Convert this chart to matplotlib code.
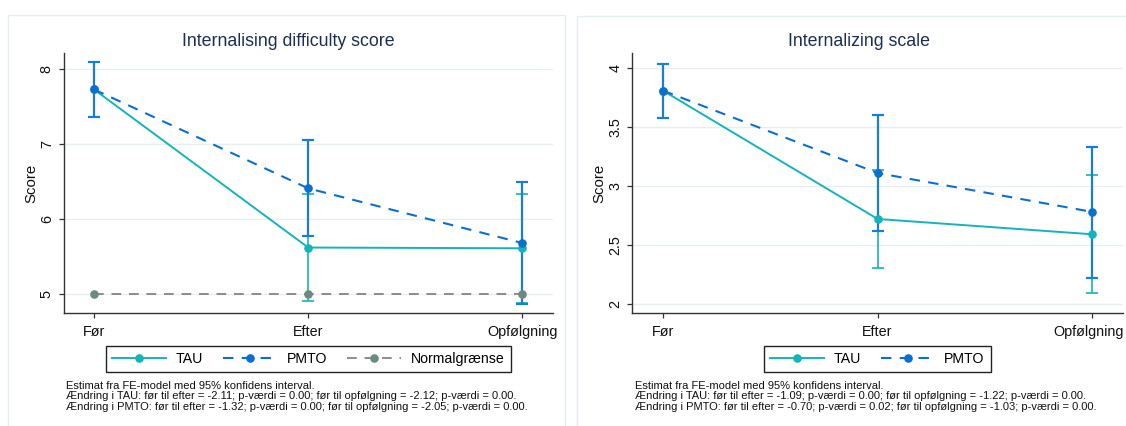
import matplotlib
matplotlib.use("Agg")
import matplotlib.pyplot as plt
import matplotlib.transforms as mtransforms
from matplotlib.patches import Rectangle
from matplotlib.lines import Line2D
import numpy as np

plt.rcParams['font.family'] = ['Liberation Sans', 'DejaVu Sans']

# ---------------- data ----------------
categories = ['Før', 'Efter', 'Opfølgning']

# Left panel: Internalising difficulty score
title1 = 'Internalising difficulty score'
tau1 = [7.73, 5.62, 5.61]
tau1_lo = [7.36, 4.90, 4.88]
tau1_hi = [8.10, 6.34, 6.34]
pmto1 = [7.73, 6.41, 5.68]
pmto1_lo = [7.36, 5.77, 4.87]
pmto1_hi = [8.10, 7.06, 6.49]
norm1 = [5, 5, 5]
yticks1 = [5, 6, 7, 8]
notes1 = ['Estimat fra FE-model med 95% konfidens interval.',
          'Ændring i TAU: før til efter = -2.11; p-værdi = 0.00; før til opfølgning = -2.12; p-værdi = 0.00.',
          'Ændring i PMTO: før til efter = -1.32; p-værdi = 0.00; før til opfølgning = -2.05; p-værdi = 0.00.']

# Right panel: Internalizing scale
title2 = 'Internalizing scale'
tau2 = [3.81, 2.72, 2.59]
tau2_lo = [3.58, 2.30, 2.09]
tau2_hi = [4.04, 3.14, 3.09]
pmto2 = [3.81, 3.11, 2.78]
pmto2_lo = [3.58, 2.62, 2.22]
pmto2_hi = [4.04, 3.60, 3.33]
yticks2 = [2, 2.5, 3, 3.5, 4]
ytick2_labels = ['2', '2.5', '3', '3.5', '4']
notes2 = ['Estimat fra FE-model med 95% konfidens interval.',
          'Ændring i TAU: før til efter = -1.09; p-værdi = 0.00; før til opfølgning = -1.22; p-værdi = 0.00.',
          'Ændring i PMTO: før til efter = -0.70; p-værdi = 0.02; før til opfølgning = -1.03; p-værdi = 0.00.']

# ---------------- style ----------------
C_TAU = '#14b4b8'
C_PMTO = '#0b6fcf'
C_PMTO_CI = '#1a7fd3'
C_NORM_LINE = '#8c8c8c'
C_NORM_MK = '#6d8a80'
C_TITLE = '#1f2d55'
C_GRID = '#e8eff2'
C_PANEL = '#e4edf0'
W, H = 1126, 426
MS = 6.2

fig = plt.figure(figsize=(W / 100, H / 100), dpi=100)
fig.patch.set_facecolor('white')

# panel borders
fig.add_artist(Rectangle((8 / W, -0.02), (565 - 8) / W, 1 - 15 / H + 0.02,
                         transform=fig.transFigure, fill=False,
                         edgecolor=C_PANEL, linewidth=1.0))
fig.add_artist(Rectangle((577 / W, -0.02), 0.6, 1 - 16 / H + 0.02,
                         transform=fig.transFigure, fill=False,
                         edgecolor=C_PANEL, linewidth=1.0))

ax_bottom = 1 - 312.7 / H
ax_top = 1 - 53.3 / H
ax1 = fig.add_axes([63.5 / W, ax_bottom, (552.7 - 63.5) / W, ax_top - ax_bottom])
ax2 = fig.add_axes([632.3 / W, ax_bottom, (1122.7 - 632.3) / W, ax_top - ax_bottom])

x = np.arange(len(categories))


def draw(ax, tau, tlo, thi, pmto, plo, phi, norm=None):
    tau = np.array(tau); pmto = np.array(pmto)
    ax.errorbar(x, tau, yerr=[tau - np.array(tlo), np.array(thi) - tau],
                fmt='none', ecolor=C_TAU, elinewidth=1.2, capsize=4.5,
                capthick=1.2, zorder=2)
    ax.errorbar(x, pmto, yerr=[pmto - np.array(plo), np.array(phi) - pmto],
                fmt='none', ecolor=C_PMTO_CI, elinewidth=1.6, capsize=4.5,
                capthick=1.6, zorder=3)
    ax.plot(x, tau, color=C_TAU, lw=1.4, marker='o', ms=MS,
            markeredgewidth=0, zorder=4)
    ax.plot(x, pmto, color=C_PMTO, lw=1.5, ls=(0, (5, 4)), marker='o',
            ms=MS, markeredgewidth=0, zorder=5)
    if norm is not None:
        ax.plot(x, norm, color=C_NORM_LINE, lw=1.4, ls=(0, (5, 4)),
                zorder=6)
        ax.plot(x, norm, ls='none', marker='o', ms=MS, color=C_NORM_MK,
                markeredgewidth=0, zorder=7)


draw(ax1, tau1, tau1_lo, tau1_hi, pmto1, pmto1_lo, pmto1_hi, norm1)
draw(ax2, tau2, tau2_lo, tau2_hi, pmto2, pmto2_lo, pmto2_hi)

ax1.set_ylim(4.75, 8.213)
ax1.set_yticks(yticks1)
ax1.set_yticklabels([str(t) for t in yticks1])
ax2.set_ylim(1.924, 4.127)
ax2.set_yticks(yticks2)
ax2.set_yticklabels(ytick2_labels)

for ax in (ax1, ax2):
    ax.set_xlim(-0.143, 2.142)
    ax.set_xticks(x)
    ax.set_xticklabels(categories)
    for s in ('top', 'right'):
        ax.spines[s].set_visible(False)
    for s in ('left', 'bottom'):
        ax.spines[s].set_color('#333333')
        ax.spines[s].set_linewidth(1.0)
    ax.tick_params(axis='both', direction='out', length=3.6, width=0.9,
                   color='#333333', labelsize=10.4, labelcolor='#111111')
    ax.tick_params(axis='x', pad=5)
    ax.tick_params(axis='y', pad=3.4)
    for lab in ax.get_yticklabels():
        lab.set_rotation(90)
        lab.set_va('center')
    ax.yaxis.grid(True, color=C_GRID, lw=1.0)
    ax.set_axisbelow(True)
    ax.text(-0.0664, 0.5, 'Score', transform=ax.transAxes, rotation=90,
            va='center', ha='center', fontsize=10.8, color='#111111')
    ax.set_facecolor('white')

# keep the last right-panel tick label inside the figure edge
last_lab = ax2.get_xticklabels()[-1]
last_lab.set_transform(last_lab.get_transform() +
                       mtransforms.ScaledTranslation(-4 / 100, 0, fig.dpi_scale_trans))

# titles centered on panels
fig.text(288 / W, 1 - 41.5 / H, title1, ha='center', va='center',
         fontsize=12.8, color=C_TITLE)
fig.text(858.5 / W, 1 - 41.5 / H, title2, ha='center', va='center',
         fontsize=12.8, color=C_TITLE)

# legends
h_tau = Line2D([], [], color=C_TAU, lw=1.4, marker='o', ms=MS, markeredgewidth=0)
h_pmto = Line2D([], [], color=C_PMTO, lw=1.5, ls=(0, (5, 4)), marker='o', ms=MS,
                markeredgewidth=0)
h_norm = Line2D([], [], color=C_NORM_LINE, lw=1.4, ls=(0, (5, 4)), marker='o', ms=MS,
                markerfacecolor=C_NORM_MK, markeredgewidth=0)

leg_kw = dict(loc='center', ncol=3, fontsize=10.2, frameon=True, fancybox=False,
              edgecolor='#222222', framealpha=1, handlelength=3.8,
              handletextpad=0.65, columnspacing=1.45, borderpad=0.45,
              numpoints=1, bbox_transform=fig.transFigure)
leg1 = ax1.legend([h_tau, h_pmto, h_norm], ['TAU', 'PMTO', 'Normalgrænse'],
                  bbox_to_anchor=(308.3 / W, 1 - 358.9 / H), **leg_kw)
leg1.get_frame().set_linewidth(1.0)
leg_kw['ncol'] = 2
leg2 = ax2.legend([h_tau, h_pmto], ['TAU', 'PMTO'],
                  bbox_to_anchor=(877.5 / W, 1 - 358.9 / H), **leg_kw)
leg2.get_frame().set_linewidth(1.0)

# notes
for xs, notes in ((66 / W, notes1), (635 / W, notes2)):
    for i, line in enumerate(notes):
        fig.text(xs, 1 - (386 + 10.3 * i) / H, line, ha='left', va='center',
                 fontsize=8, color='#111111')

fig.savefig('out.png', dpi=100, facecolor='white')
